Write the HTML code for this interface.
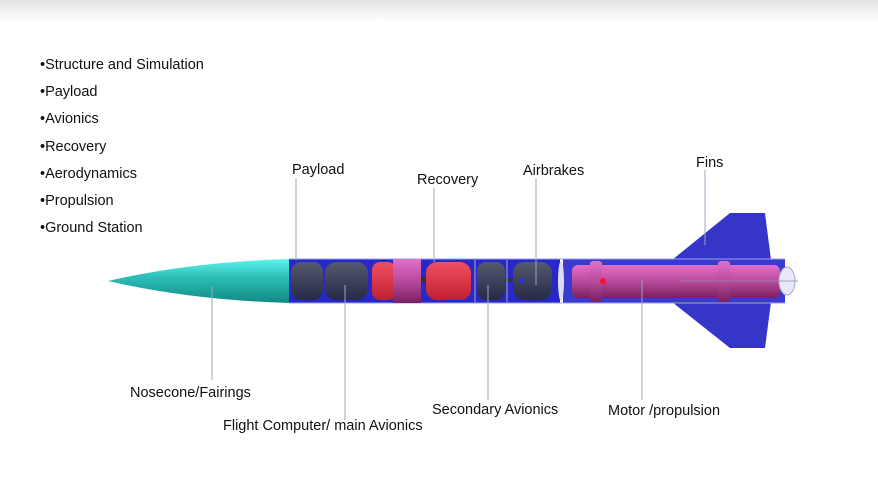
<!DOCTYPE html>
<html><head><style>
body{margin:0;width:878px;height:473px;overflow:hidden;background:#fff;font-family:"Liberation Sans",sans-serif}
</style></head><body>
<svg width="878" height="473" viewBox="0 0 878 473" xmlns="http://www.w3.org/2000/svg" font-family="Liberation Sans, sans-serif" font-size="14.5" fill="#111">
<defs>
<linearGradient id="top" x1="0" y1="0" x2="0" y2="1"><stop offset="0" stop-color="#e4e4e4"/><stop offset="1" stop-color="#fff"/></linearGradient>
<linearGradient id="nose" x1="0" y1="0" x2="0" y2="1"><stop offset="0" stop-color="#5ff3ee"/><stop offset="0.4" stop-color="#2cc0b8"/><stop offset="1" stop-color="#128a85"/></linearGradient>
<linearGradient id="dark" x1="0" y1="0" x2="0" y2="1"><stop offset="0" stop-color="#555a70"/><stop offset="1" stop-color="#262a45"/></linearGradient>
<linearGradient id="red" x1="0" y1="0" x2="0" y2="1"><stop offset="0" stop-color="#f05060"/><stop offset="1" stop-color="#c02030"/></linearGradient>
<linearGradient id="pink" x1="0" y1="0" x2="0" y2="1"><stop offset="0" stop-color="#e070c8"/><stop offset="0.5" stop-color="#b84a9c"/><stop offset="1" stop-color="#7a2060"/></linearGradient>
</defs>
<rect width="878" height="22" fill="url(#top)"/>
<g>
<text x="40" y="69">•Structure and Simulation</text>
<text x="40" y="96">•Payload</text>
<text x="40" y="123">•Avionics</text>
<text x="40" y="151">•Recovery</text>
<text x="40" y="178">•Aerodynamics</text>
<text x="40" y="205">•Propulsion</text>
<text x="40" y="232">•Ground Station</text>
</g>
<polygon points="672,260 730,213 765,213 771,260" fill="#3535c8"/>
<polygon points="672,302 730,348 765,348 771,302" fill="#3535c8"/>
<path d="M108,281 Q190,262 289,259 L289,303 Q190,300 108,281 Z" fill="url(#nose)"/>
<rect x="289" y="259" width="271" height="44" fill="#2828c8"/>
<rect x="563" y="259" width="222" height="44" fill="#3a3ad0"/>
<line x1="289" y1="259" x2="785" y2="259" stroke="#9aa0e8" stroke-width="1"/>
<line x1="289" y1="303" x2="785" y2="303" stroke="#9aa0e8" stroke-width="1"/>
<rect x="291" y="262" width="32" height="38" rx="10" fill="url(#dark)"/>
<rect x="325" y="262" width="43" height="38" rx="11" fill="url(#dark)"/>
<rect x="372" y="262" width="24" height="38" rx="8" fill="url(#red)"/>
<rect x="393" y="259" width="28" height="44" fill="url(#pink)"/>
<rect x="421" y="277" width="6" height="6" fill="#333"/>
<rect x="426" y="262" width="45" height="38" rx="11" fill="url(#red)"/>
<line x1="475" y1="260" x2="475" y2="302" stroke="#aab" />
<rect x="477" y="262" width="28" height="38" rx="9" fill="url(#dark)"/>
<line x1="505" y1="280" x2="513" y2="280" stroke="#333" stroke-width="3"/>
<line x1="507" y1="260" x2="507" y2="302" stroke="#aab"/>
<rect x="513" y="262" width="39" height="38" rx="11" fill="url(#dark)"/>
<circle cx="522" cy="281" r="2.5" fill="#2233dd"/>
<ellipse cx="561" cy="281" rx="3" ry="20" fill="#dde"/>
<rect x="572" y="265" width="208" height="33" rx="6" fill="url(#pink)"/>
<rect x="590" y="261" width="12" height="41" rx="3" fill="url(#pink)"/>
<rect x="718" y="261" width="12" height="41" rx="3" fill="url(#pink)"/>
<circle cx="603" cy="281" r="3" fill="#ff1030"/>
<ellipse cx="787" cy="281" rx="8" ry="14" fill="#e8e8f8" stroke="#aab"/>
<line x1="680" y1="281" x2="798" y2="281" stroke="#8890a0" stroke-width="0.8"/>
<g stroke="#9aa8c0" stroke-width="1">
<line x1="296" y1="178" x2="296" y2="260"/>
<line x1="434" y1="188" x2="434" y2="262"/>
<line x1="536" y1="178" x2="536" y2="285"/>
<line x1="705" y1="170" x2="705" y2="245"/>
<line x1="212" y1="286" x2="212" y2="380"/>
<line x1="345" y1="285" x2="345" y2="420"/>
<line x1="488" y1="285" x2="488" y2="400"/>
<line x1="642" y1="280" x2="642" y2="400"/>
</g>
<text x="292" y="174">Payload</text>
<text x="417" y="184">Recovery</text>
<text x="523" y="175">Airbrakes</text>
<text x="696" y="167">Fins</text>
<text x="130" y="397">Nosecone/Fairings</text>
<text x="223" y="430">Flight Computer/ main Avionics</text>
<text x="432" y="414">Secondary Avionics</text>
<text x="608" y="415">Motor /propulsion</text>
</svg>
</body></html>
